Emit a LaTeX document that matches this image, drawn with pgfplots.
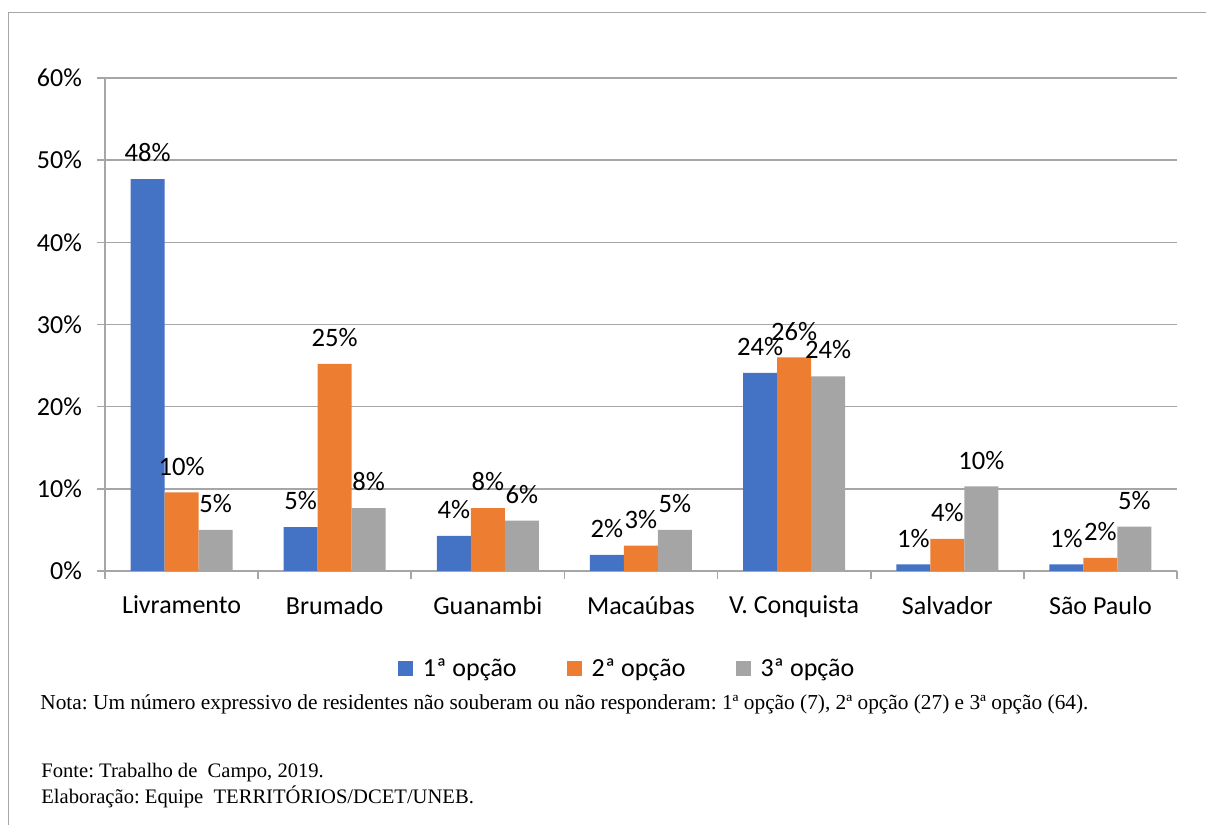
\documentclass[border=0pt]{standalone}
\usepackage{pgfplots}
\pgfplotsset{compat=1.18}
\usepackage{fontspec}
\setmainfont{Carlito}
\newfontfamily\timesf{Liberation Serif}
\frenchspacing

\definecolor{c1}{HTML}{4472C4}
\definecolor{c2}{HTML}{ED7D31}
\definecolor{c3}{HTML}{A5A5A5}
\definecolor{gridc}{HTML}{A6A6A6}

\begin{document}
\begin{tikzpicture}
\path[use as bounding box] (0,0) rectangle (603pt,412.5pt);
\draw[gridc, line width=0.6pt] (4.25pt,-20pt) |- (640pt,406.25pt);
\begin{axis}[
  at={(52.5pt,127pt)}, anchor=south west,
  scale only axis, width=536pt, height=246.5pt,
  ybar=0pt, bar width=17pt,
  xmin=-0.5, xmax=6.5, ymin=0, ymax=60,
  xtick=data,
  xticklabels={Livramento,Brumado,Guanambi,Macaúbas,V. Conquista,Salvador,São Paulo},
  minor xtick={-0.5,0.5,...,6.5},
  ytick={0,10,...,60},
  yticklabel={\pgfmathprintnumber{\tick}\%},
  /pgf/number format/assume math mode=true,
  axis x line=bottom, axis y line=left,
  axis line style={-, draw=gridc, line width=0.8pt},
  tick align=outside,
  major tick length=4pt, minor tick length=4pt,
  xtick style={draw=none},
  minor x tick style={draw=gridc, line width=0.8pt},
  ytick style={draw=gridc, line width=0.8pt},
  ymajorgrids, grid style={draw=gridc, line width=0.8pt},
  tick label style={font=\fontsize{13}{15}\selectfont},
  xticklabel style={yshift=-5pt},
  yticklabel style={xshift=-4pt},
  nodes near coords={\pgfmathprintnumber[fixed,precision=0]{\pgfplotspointmeta}\%},
  every node near coord/.append style={font=\fontsize{13.3}{15}\selectfont, black, yshift=5pt},
  legend columns=3,
  legend style={at={(0.488,-0.199)}, anchor=center, draw=none, font=\fontsize{13}{15}\selectfont,
    /tikz/every odd column/.append style={column sep=3pt},
    /tikz/every even column/.append style={column sep=23pt}},
  legend image code/.code={\fill[#1] (0pt,-3.5pt) rectangle (7.5pt,4pt);},
]
\addplot[fill=c1, draw=none] coordinates {(0,47.7) (1,5.35) (2,4.26) (3,1.95) (4,24.1) (5,0.8) (6,0.8)};
\addlegendentry{1ª opção}
\addplot[fill=c2, draw=none] coordinates {(0,9.57) (1,25.2) (2,7.66) (3,3.08) (4,26.0) (5,3.9) (6,1.6)};
\addlegendentry{2ª opção}
\addplot[fill=c3, draw=none] coordinates {(0,4.99) (1,7.66) (2,6.12) (3,4.99) (4,23.7) (5,10.3) (6,5.4)};
\addlegendentry{3ª opção}
\end{axis}
\node[anchor=west, inner sep=0pt] at (20pt,60.5pt) {\resizebox{524pt}{!}{\timesf\fontsize{10}{12}\selectfont Nota: Um número expressivo de residentes não souberam ou não responderam: 1ª opção (7), 2ª opção (27) e 3ª opção (64).}};
\node[anchor=west, inner sep=0pt] at (20.5pt,26pt) {\timesf\fontsize{10.3}{12}\selectfont Fonte: Trabalho de\ \ Campo, 2019.};
\node[anchor=west, inner sep=0pt] at (20.5pt,14pt) {\timesf\fontsize{10.3}{12}\selectfont Elaboração: Equipe\ \ TERRITÓRIOS/DCET/UNEB.};
\end{tikzpicture}
\end{document}
